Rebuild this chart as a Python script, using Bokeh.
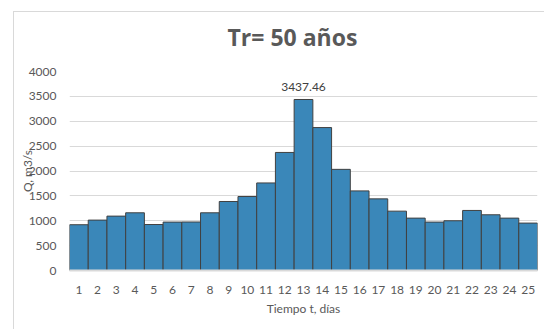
from bokeh.plotting import figure
from bokeh.models import ColumnDataSource, FixedTicker, Range1d, Label, Title, InlineStyleSheet
from bokeh.embed import file_html
from bokeh.resources import INLINE

dias = list(range(1, 26))
caudal = [920, 1013, 1093, 1160, 924, 973, 975, 1160, 1387, 1487, 1760, 2373,
          3437.46, 2873, 2033, 1600, 1440, 1193, 1053, 973, 1000, 1207, 1120, 1053, 953]
y_ticks = [0, 500, 1000, 1500, 2000, 2500, 3000, 3500, 4000]
titulo = "Tr= 50 años"
eje_x = "Tiempo t, días"
eje_y = "Q, m3/s"
etiqueta_pico = "3437.46"

FONT = "Lato"
GREY = "#595959"

src = ColumnDataSource(dict(x=dias, top=caudal))

# light grey chart-area border (top and left edges; the rest is cut by the window)
border_css = InlineStyleSheet(css="""
:host { position: relative; }
:host::after {
  content: "";
  position: absolute;
  left: 13px; top: 11px; right: 0px; bottom: 0px;
  border-left: 1px solid #d9d9d9;
  border-top: 1px solid #d9d9d9;
  pointer-events: none;
}
""")

p = figure(width=544, height=329, output_backend="svg", toolbar_location=None,
           x_range=Range1d(0.5, 25.5), y_range=Range1d(0, 4000),
           min_border_left=69, min_border_right=7, min_border_top=70, min_border_bottom=59,
           stylesheets=[border_css])
p.outline_line_color = None
p.background_fill_color = "white"
p.border_fill_color = "white"

p.vbar(x="x", top="top", width=1.0, source=src, fill_color="#3a87b9",
       line_color="#404040", line_width=1)

imax = caudal.index(max(caudal))
p.add_layout(Label(x=dias[imax], y=caudal[imax], text=etiqueta_pico, text_align="center",
                   text_baseline="bottom", y_offset=8, text_font=FONT,
                   text_font_size="12px", text_color="#404040"))

t = Title(text=titulo, align="left", text_font="Open Sans", text_font_size="23px",
          text_font_style="bold", text_color=GREY, standoff=37, offset=158)
p.add_layout(t, "above")

p.xaxis.ticker = FixedTicker(ticks=dias)
p.yaxis.ticker = FixedTicker(ticks=y_ticks)
p.xgrid.grid_line_color = None
p.ygrid.grid_line_color = "#d9d9d9"
p.ygrid.grid_line_width = 1

for ax in (p.xaxis[0], p.yaxis[0]):
    ax.major_tick_line_color = None
    ax.minor_tick_line_color = None
    ax.major_label_text_font = FONT
    ax.major_label_text_font_size = "12px"
    ax.major_label_text_color = GREY
    ax.axis_label_text_font = FONT
    ax.axis_label_text_font_size = "12px"
    ax.axis_label_text_color = GREY
    ax.axis_label_text_font_style = "normal"

p.xaxis.axis_line_color = "#d9d9d9"
p.xaxis.axis_line_width = 2
p.xaxis.major_label_standoff = 9
p.xaxis.axis_label = eje_x
p.xaxis.axis_label_standoff = 4

p.yaxis.axis_line_color = None
p.yaxis.major_label_standoff = 7
p.yaxis.axis_label = eje_y
p.yaxis.axis_label_standoff = -9

open("out.html", "w").write(file_html(p, INLINE))
